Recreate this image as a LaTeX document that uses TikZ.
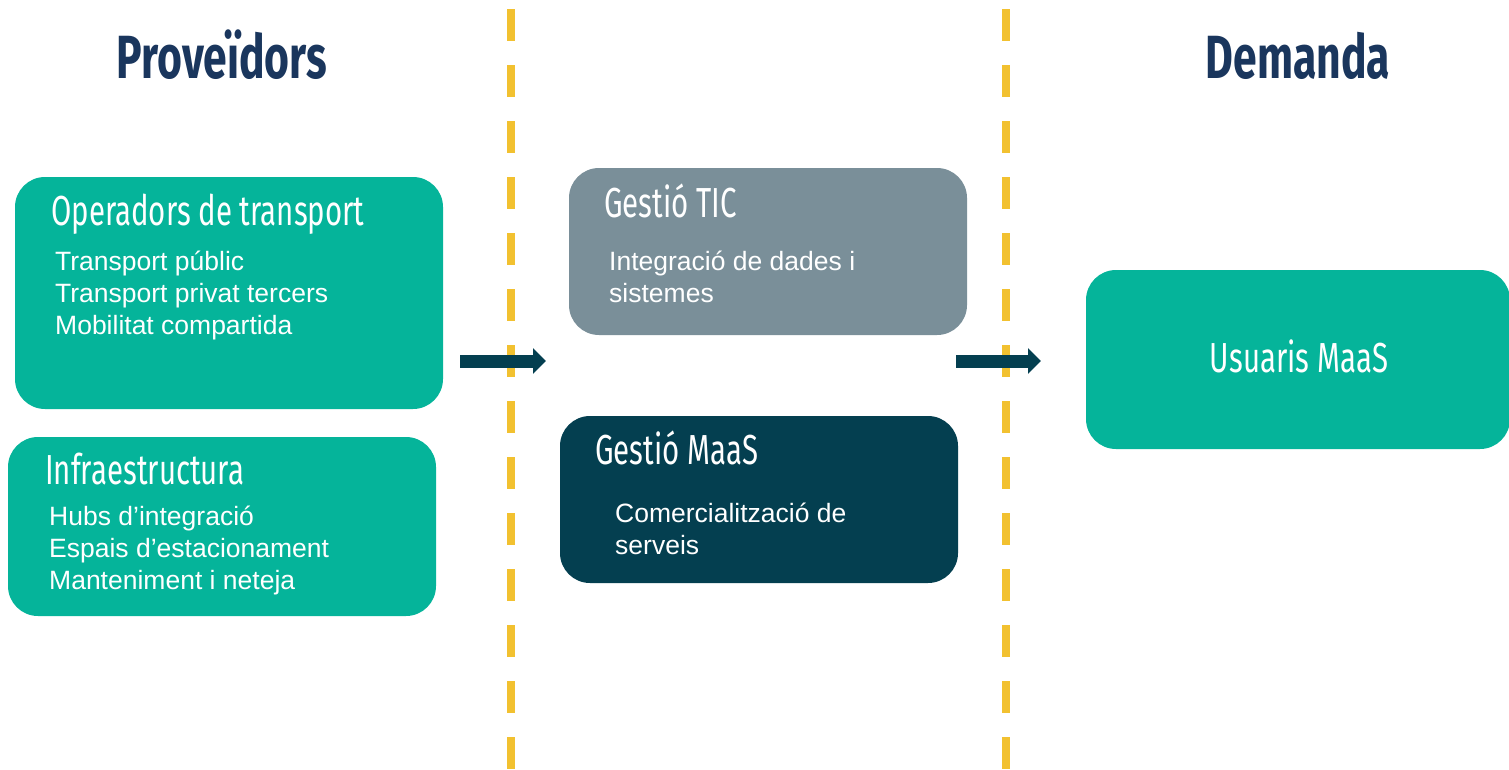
\documentclass[tikz,border=0pt]{standalone}
\usepackage{fontspec}
\setmainfont{Liberation Sans}
\newfontfamily\headfont[FakeStretch=0.7]{Fira Sans}
\newfontfamily\titlefont[FakeStretch=0.70]{Fira Sans}
\usetikzlibrary{arrows.meta}
\definecolor{maasteal}{RGB}{5,180,154}
\definecolor{maasgray}{RGB}{122,143,153}
\definecolor{maasdark}{RGB}{4,63,80}
\definecolor{maasnavy}{RGB}{26,54,93}
\definecolor{maasyellow}{RGB}{242,193,48}
\tikzset{
 box/.style={rounded corners=30pt,inner sep=0pt},
 boxhead/.style={anchor=base west,inner sep=0pt,text=white,font=\headfont\fontsize{42}{48}\selectfont},
 boxitem/.style={anchor=base west,inner sep=0pt,text=white,align=left,font=\fontsize{26.5}{32}\selectfont},
 coltitle/.style={anchor=base,inner sep=0pt,text=maasnavy,font=\titlefont\bfseries\fontsize{61}{70}\selectfont},
 divider/.style={draw=maasyellow,line width=8pt,dash pattern=on 32pt off 24pt},
 flow/.style={draw=maasdark,line width=13pt,-{Triangle[length=13pt,width=25pt]}}
}
\begin{document}
\begin{tikzpicture}[x=1pt,y=-1pt]
 \useasboundingbox (0,0) rectangle (1509,769);
 % column titles
 \node (title prov) at (222,78) [coltitle] {Proveïdors};
 \node (title dem) at (1298,78) [coltitle] {Demanda};
 % dividers
 \coordinate (div1 top) at (511,9);
 \coordinate (div1 bot) at (511,769);
 \coordinate (div2 top) at (1006,9);
 \coordinate (div2 bot) at (1006,769);
 \draw[divider] (div1 top) -- (div1 bot);
 \draw[divider] (div2 top) -- (div2 bot);
 % boxes
 \node (box oper) at (229,293) [box,fill=maasteal,minimum width=428pt,minimum height=232pt] {};
 \node (box infra) at (222,526.5) [box,fill=maasteal,minimum width=428pt,minimum height=179pt] {};
 \node (box tic) at (768,251.5) [box,fill=maasgray,minimum width=398pt,minimum height=167pt] {};
 \node (box maas) at (759,499.5) [box,fill=maasdark,minimum width=398pt,minimum height=167pt] {};
 \node (box users) at (1298,359.5) [box,fill=maasteal,minimum width=424pt,minimum height=179pt] {};
 % texts (base of the last line)
 \node (head oper) at (51,225) [boxhead] {Operadors de transport};
 \node (items oper) at (55,334) [boxitem] {Transport públic\\Transport privat tercers\\Mobilitat compartida};
 \node (head infra) at (45,484) [boxhead] {Infraestructura};
 \node (items infra) at (49,589) [boxitem] {Hubs d’integració\\Espais d’estacionament\\Manteniment i neteja};
 \node (head tic) at (604,217) [boxhead] {Gestió TIC};
 \node (items tic) at (609,302) [boxitem] {Integració de dades i\\sistemes};
 \node (head maas) at (595,464) [boxhead] {Gestió MaaS};
 \node (items maas) at (615,554) [boxitem] {Comercialització de\\serveis};
 \node (head users) at (1299,372) [boxhead,anchor=base] {Usuaris MaaS};
 % arrows
 \coordinate (flow1 in) at (460,361);
 \coordinate (flow1 out) at (546,361);
 \coordinate (flow2 in) at (956,361);
 \coordinate (flow2 out) at (1041,361);
 \draw[flow] (flow1 in) -- (flow1 out);
 \draw[flow] (flow2 in) -- (flow2 out);
\end{tikzpicture}
\end{document}
